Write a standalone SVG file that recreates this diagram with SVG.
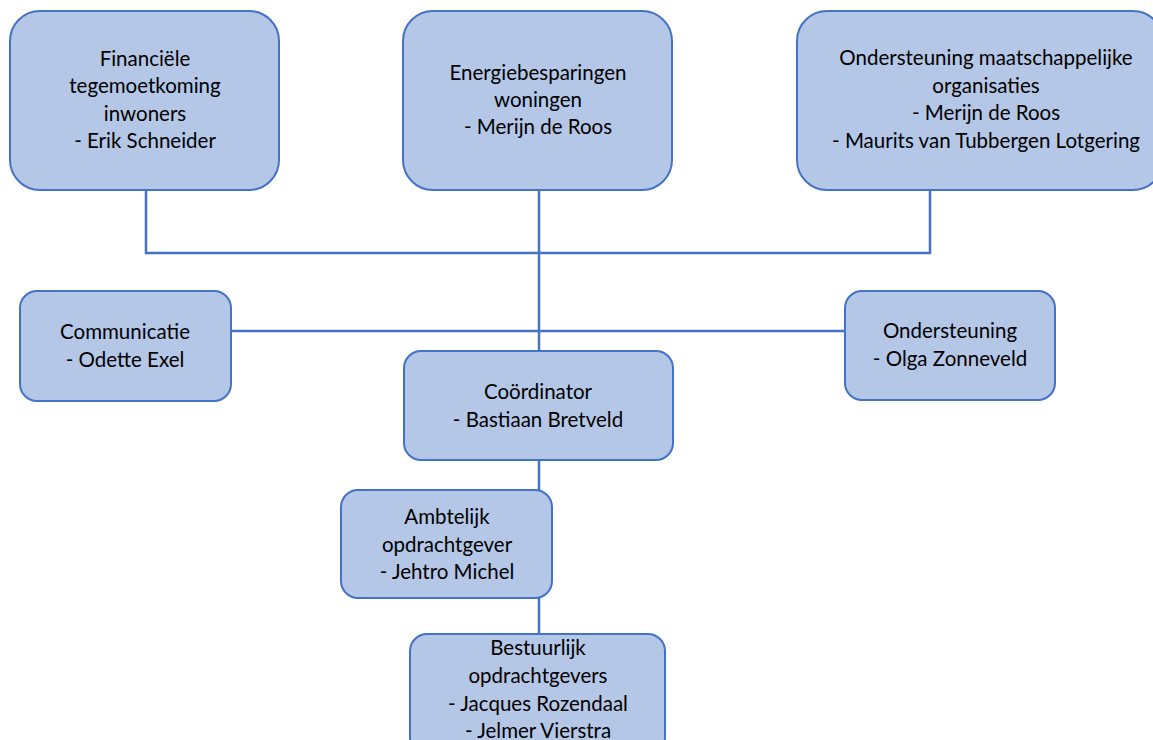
<svg xmlns="http://www.w3.org/2000/svg" width="1153" height="740" viewBox="0 0 1153 740">
<style>
.box{fill:#B4C7E7;stroke:#4472C4;stroke-width:2}
.t{font-family:Lato,"Open Sans",sans-serif;font-size:20.5px;fill:#000;text-anchor:middle}
.c{stroke:#4472C4;stroke-width:2.5;fill:none}
</style>
<rect width="1153" height="740" fill="#fff"/>
<g id="connectors">
<path class="c" d="M146 190V253H930V190"/>
<path class="c" d="M539 190V352"/>
<path class="c" d="M231 331H845"/>
<path class="c" d="M539 460V491"/>
<path class="c" d="M539 598V635"/>
</g>
<g id="financiele">
<rect class="box" x="10" y="11" width="269" height="179" rx="30"/>
<text class="t" x="145" y="66">Financiële</text>
<text class="t" x="145" y="93">tegemoetkoming</text>
<text class="t" x="145" y="121">inwoners</text>
<text class="t" x="145" y="148">- Erik Schneider</text>
</g>
<g id="energie">
<rect class="box" x="403" y="11" width="269" height="179" rx="30"/>
<text class="t" x="538" y="80">Energiebesparingen</text>
<text class="t" x="538" y="107">woningen</text>
<text class="t" x="538" y="134">- Merijn de Roos</text>
</g>
<g id="ondersteuning-maatschappelijk">
<rect class="box" x="797" y="11" width="366" height="179" rx="30"/>
<text class="t" x="986" y="65">Ondersteuning maatschappelijke</text>
<text class="t" x="986" y="93">organisaties</text>
<text class="t" x="986" y="120">- Merijn de Roos</text>
<text class="t" x="986" y="148">- Maurits van Tubbergen Lotgering</text>
</g>
<g id="communicatie">
<rect class="box" x="20" y="291" width="211" height="110" rx="17"/>
<text class="t" x="125" y="339">Communicatie</text>
<text class="t" x="125" y="367">- Odette Exel</text>
</g>
<g id="ondersteuning">
<rect class="box" x="845" y="291" width="210" height="109" rx="17"/>
<text class="t" x="950" y="338">Ondersteuning</text>
<text class="t" x="950" y="366">- Olga Zonneveld</text>
</g>
<g id="coordinator">
<rect class="box" x="404" y="351" width="269" height="109" rx="17"/>
<text class="t" x="538" y="399">Coördinator</text>
<text class="t" x="538" y="427">- Bastiaan Bretveld</text>
</g>
<g id="ambtelijk">
<rect class="box" x="341" y="490" width="211" height="108" rx="17"/>
<text class="t" x="447" y="524">Ambtelijk</text>
<text class="t" x="447" y="552">opdrachtgever</text>
<text class="t" x="447" y="579">- Jehtro Michel</text>
</g>
<g id="bestuurlijk">
<rect class="box" x="410" y="634" width="255" height="120" rx="17"/>
<text class="t" x="538" y="655">Bestuurlijk</text>
<text class="t" x="538" y="683">opdrachtgevers</text>
<text class="t" x="538" y="711">- Jacques Rozendaal</text>
<text class="t" x="538" y="738">- Jelmer Vierstra</text>
</g>
</svg>
